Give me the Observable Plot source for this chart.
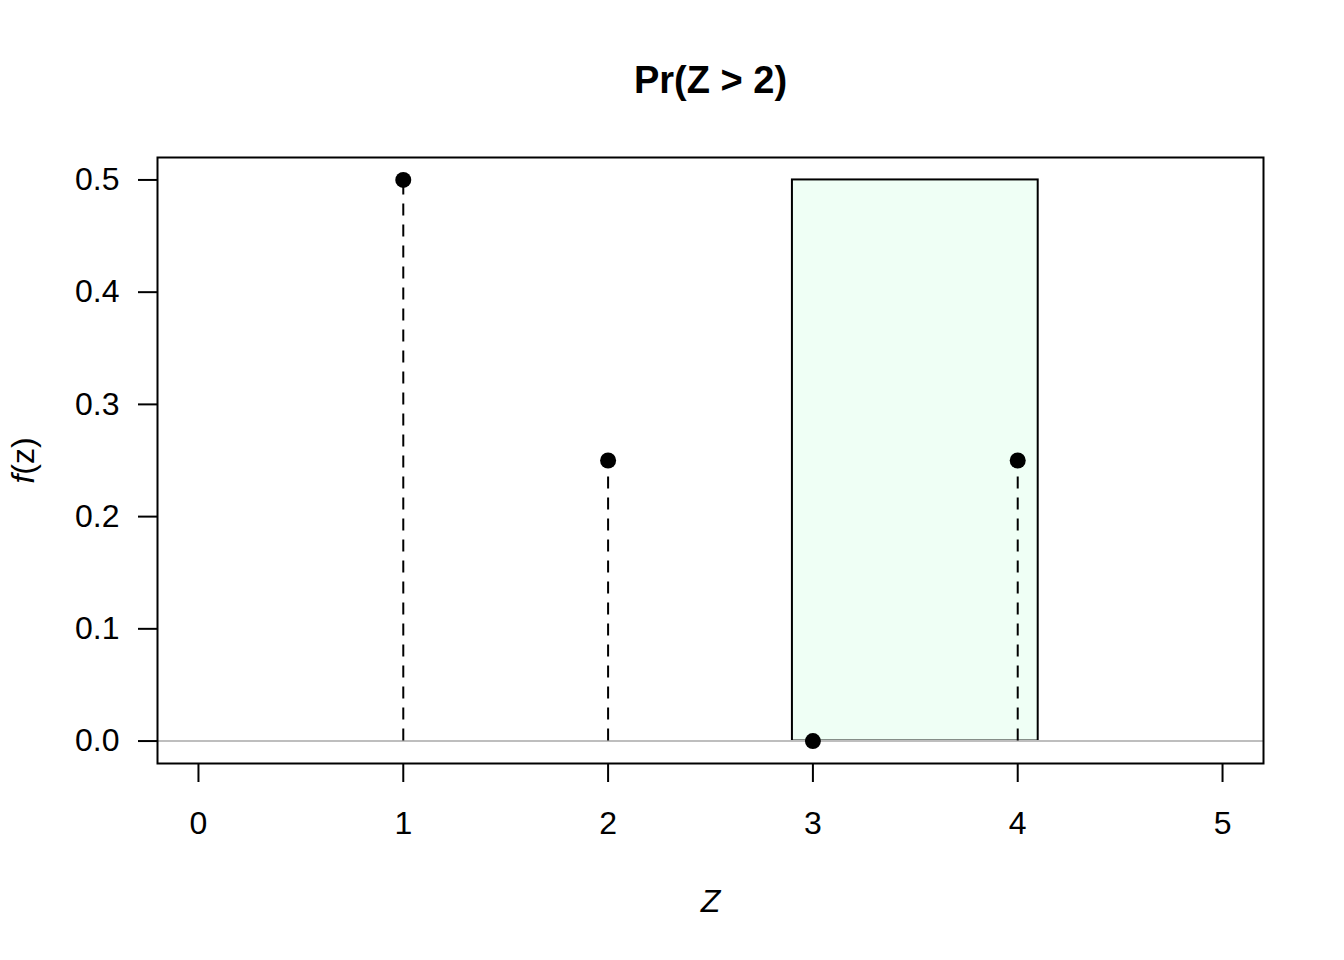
<!DOCTYPE html>
<html>
<head>
<meta charset="utf-8">
<script src="https://cdn.jsdelivr.net/npm/d3@7"></script>
<script src="https://cdn.jsdelivr.net/npm/@observablehq/plot@0.6"></script>
<style>
  html, body { margin: 0; padding: 0; background: #ffffff; }
  #chart { width: 1344px; height: 960px; }
</style>
</head>
<body>
<div id="chart"></div>
<script>
// Data
const zValues = [1, 2, 3, 4];
const probValues = [0.5, 0.25, 0, 0.25];
const xTicks = [0, 1, 2, 3, 4, 5];
const yTicks = [0, 0.1, 0.2, 0.3, 0.4, 0.5];
const regionX = [2.9, 4.1];
const regionY = [0, 0.5];
const titleText = "Pr(Z > 2)";
const xLabel = "Z";
const yLabel = "f(z)";

const points = zValues.map((z, i) => ({z, p: probValues[i]}));
const region = [{x1: regionX[0], x2: regionX[1], y1: regionY[0], y2: regionY[1]}];

const plot = Plot.plot({
  width: 1344,
  height: 960,
  marginLeft: 157,
  marginRight: 81,
  marginTop: 157,
  marginBottom: 197,
  style: {fontFamily: "'Liberation Sans', Arial, Helvetica, sans-serif", background: "#ffffff", color: "#000000"},
  x: {domain: [-0.2, 5.2]},
  y: {domain: [-0.02, 0.52]},
  marks: [
    Plot.rect(region, {x1: "x1", x2: "x2", y1: "y1", y2: "y2", fill: "#EFFFF5", stroke: "#000000", strokeWidth: 2}),
    Plot.ruleY([0], {stroke: "#BEBEBE", strokeWidth: 2}),
    Plot.ruleX(points, {x: "z", y1: 0, y2: "p", stroke: "#000000", strokeWidth: 2, strokeDasharray: "12,9"}),
    Plot.dot(points, {x: "z", y: "p", r: 8, fill: "#000000", stroke: "none"}),
    Plot.frame({stroke: "#000000", strokeWidth: 2}),
    Plot.axisX({ticks: xTicks, tickSize: 19, tickPadding: 29, fontSize: 32, label: null, strokeWidth: 2, tickFormat: d3.format("d")}),
    Plot.axisY({ticks: yTicks, tickSize: 19, tickPadding: 19, fontSize: 32, label: null, strokeWidth: 2, tickFormat: d3.format(".1f")}),
    Plot.text([titleText], {frameAnchor: "top", dy: -91, fontSize: 38, fontWeight: "bold"}),
    Plot.text([xLabel], {frameAnchor: "bottom", dy: 148, fontSize: 32, fontStyle: "italic"}),
    Plot.text([yLabel], {frameAnchor: "left", textAnchor: "middle", dx: -134, rotate: -90, fontSize: 32})
  ]
});

document.getElementById("chart").appendChild(plot);

// Italicise the "f" of the y label
d3.select(plot).selectAll("text").filter(function() { return d3.select(this).text() === yLabel; })
  .each(function() {
    const t = d3.select(this);
    t.text(null);
    t.append("tspan").attr("font-style", "italic").text("f");
    t.append("tspan").text("(z)");
  });
</script>
</body>
</html>
